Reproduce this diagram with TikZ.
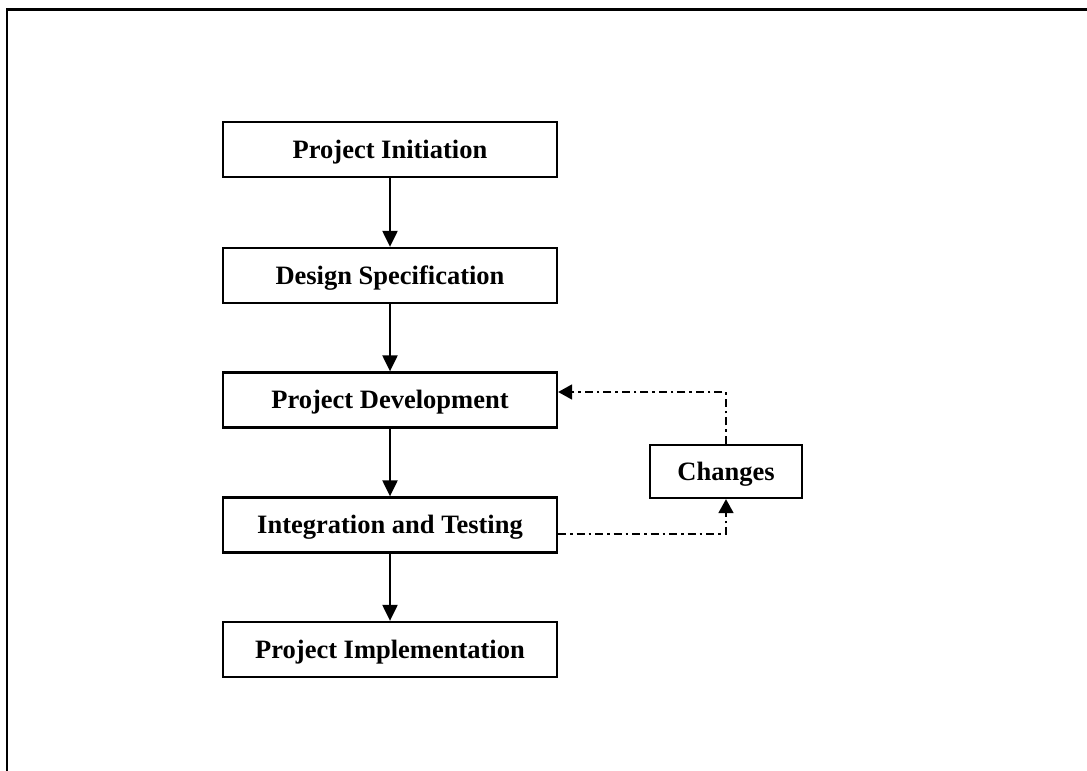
\documentclass[tikz,border=0pt]{standalone}
\usepackage{fontspec}
\setmainfont{Liberation Serif}
\usetikzlibrary{arrows.meta}
\begin{document}
\begin{tikzpicture}[x=1pt,y=-1pt,
  stagebox/.style={draw,line width=2.3pt,inner sep=0pt,minimum width=334pt,minimum height=55pt,
    text height=22pt,text depth=5pt,
    font=\fontsize{26.5}{30}\selectfont\bfseries},
  smallbox/.style={stagebox,minimum width=152pt,minimum height=53pt},
  flow/.style={line width=2.2pt,-{Triangle[length=16pt,width=15pt]}},
  feedback/.style={line width=1.8pt,dash pattern=on 8pt off 4pt on 2.5pt off 4pt,
    -{Triangle[length=14pt,width=15pt]}}]
  \useasboundingbox (0,0) rectangle (1087,771);
  % outer frame (top and left edges)
  \draw[line width=2.6pt] (7,771) -- (7,9.5) -- (1087,9.5);
  % stages
  \node[stagebox] (init)   at (390,149.5) {Project Initiation};
  \node[stagebox] (design) at (390,275.5) {Design Specification};
  \node[stagebox] (dev)    at (390,400)   {Project Development};
  \node[stagebox] (integ)  at (390,525)   {Integration and Testing};
  \node[stagebox] (impl)   at (390,649.5) {Project Implementation};
  \node[smallbox] (changes) at (726,471.5) {Changes};
  % main flow
  \draw[flow] (init.south) -- (design.north);
  \draw[flow] (design.south) -- (dev.north);
  \draw[flow] (dev.south) -- (integ.north);
  \draw[flow] (integ.south) -- (impl.north);
  % feedback loop through changes
  \draw[feedback] ([yshift=-9pt]integ.east) -| (changes.south);
  \draw[feedback] (changes.north) |- ([yshift=8pt]dev.east);
\end{tikzpicture}
\end{document}
